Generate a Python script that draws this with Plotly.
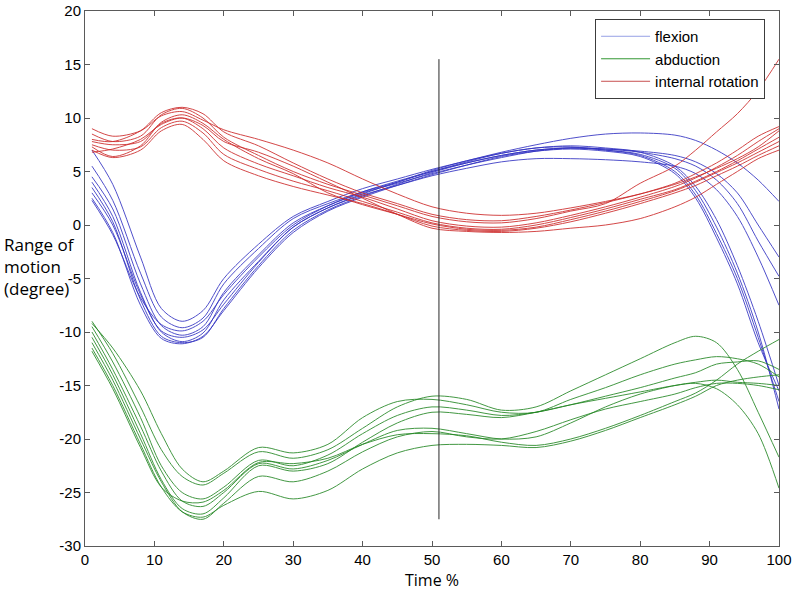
import plotly.graph_objects as go

# Time % sample positions
time_pct = [1, 4, 8, 11, 14, 17, 20, 25, 30, 35, 40, 45, 50, 55, 60, 65, 70, 75, 80, 85, 88, 91, 94, 97, 100]

flexion = [
    [7.0, 3.8, -3.0, -7.8, -9.0, -8.0, -5.0, -1.8, 0.8, 2.2, 3.4, 4.3, 5.2, 6.0, 6.8, 7.5, 8.1, 8.5, 8.6, 8.4, 7.9, 7.0, 5.8, 4.2, 2.2],
    [5.5, 2.3, -4.5, -8.6, -9.6, -8.7, -5.5, -2.2, 0.6, 2.0, 3.1, 4.0, 5.0, 5.8, 6.5, 7.0, 7.2, 7.1, 6.9, 6.5, 5.9, 4.8, 3.0, 0.0, -3.0],
    [4.5, 1.5, -5.5, -9.4, -10.3, -9.5, -6.3, -2.8, 0.2, 1.8, 3.0, 3.9, 4.8, 5.6, 6.3, 6.9, 7.2, 7.1, 6.8, 6.2, 5.5, 4.2, 2.0, -1.5, -4.8],
    [4.0, 0.8, -6.3, -10.0, -10.9, -10.1, -7.0, -3.4, -0.2, 1.6, 2.8, 3.7, 4.6, 5.3, 5.9, 6.2, 6.2, 6.1, 5.9, 5.5, 4.8, 3.3, 0.8, -3.0, -7.5],
    [3.5, 0.3, -7.0, -10.4, -11.0, -10.5, -7.8, -3.8, -0.5, 1.4, 2.7, 3.8, 4.9, 5.8, 6.5, 7.0, 7.2, 7.0, 6.6, 5.3, 3.2, -0.2, -4.5, -10.0, -17.2],
    [3.0, 0.0, -6.5, -9.9, -10.5, -9.8, -7.4, -3.5, -0.2, 1.6, 2.9, 4.0, 5.1, 6.0, 6.7, 7.2, 7.3, 7.0, 6.5, 5.0, 2.8, -0.8, -5.0, -10.5, -16.5],
    [2.5, -0.7, -7.5, -10.6, -11.1, -10.4, -8.0, -4.0, -0.7, 1.3, 2.6, 3.7, 4.7, 5.6, 6.4, 6.9, 7.1, 6.9, 6.4, 4.8, 2.5, -1.2, -5.5, -11.0, -15.5],
    [2.3, -0.9, -6.8, -9.3, -9.9, -9.0, -6.5, -3.0, 0.0, 1.8, 3.1, 4.1, 5.0, 5.9, 6.7, 7.2, 7.4, 7.2, 6.8, 5.5, 3.6, 0.5, -3.8, -9.0, -15.0],
]

abduction = [
    [-9.0, -12.0, -17.0, -21.0, -23.5, -24.3, -23.2, -21.2, -21.8, -21.0, -19.0, -17.0, -16.0, -16.3, -17.3, -17.0, -15.5, -14.0, -12.5, -11.0, -10.4, -11.0, -13.5, -17.5, -21.7],
    [-9.5, -12.8, -18.0, -22.5, -25.0, -25.6, -24.5, -22.0, -22.5, -21.5, -19.5, -17.8, -17.0, -17.3, -17.8, -17.5, -16.8, -16.0, -15.2, -14.3, -13.8, -13.0, -12.8, -12.7, -13.5],
    [-10.0, -13.5, -18.8, -23.0, -25.8, -26.3, -25.0, -22.3, -22.8, -22.0, -20.5, -19.2, -19.0, -19.5, -20.0, -19.8, -18.5, -17.0, -15.8, -15.0, -14.7, -14.5, -14.7, -14.8, -15.0],
    [-10.5, -14.0, -19.5, -23.8, -26.5, -27.0, -25.5, -22.5, -23.0, -22.3, -20.3, -18.5, -17.5, -17.7, -18.0, -17.5, -16.8, -16.2, -15.6, -15.0, -14.8, -15.3, -16.8, -19.5, -24.6],
    [-11.0, -14.5, -20.0, -24.0, -26.8, -27.5, -26.0, -23.5, -24.0, -23.0, -21.2, -19.8, -19.3, -19.8, -20.0, -19.3, -18.2, -17.2, -16.5, -15.8, -15.2, -14.8, -14.8, -15.0, -15.4],
    [-11.8, -15.3, -20.8, -24.5, -25.8, -25.9, -24.8, -22.2, -22.3, -21.8, -20.5, -19.6, -19.5, -19.7, -20.3, -20.6, -20.0, -19.0, -17.8, -16.5, -15.7, -14.5, -13.0, -11.8, -10.7],
    [-11.5, -15.0, -20.5, -24.5, -26.8, -27.3, -26.2, -24.9, -25.6, -24.8, -22.8, -21.3, -20.6, -20.5, -20.6, -20.8, -20.2, -19.2, -18.0, -16.8, -16.0, -15.0, -14.5, -14.2, -14.0],
    [-9.2, -11.5, -15.5, -19.5, -22.8, -24.0, -23.0, -20.8, -21.3, -20.5, -18.0, -16.5, -16.3, -16.8, -17.5, -17.5, -16.3, -15.2, -14.0, -13.0, -12.6, -12.3, -12.5, -13.0, -14.2],
]

internal_rotation = [
    [9.0, 8.3, 8.8, 10.2, 10.6, 9.8, 8.9, 8.0, 7.0, 5.8, 4.3, 2.9, 1.7, 1.1, 0.9, 1.1, 1.6, 2.2, 2.9, 3.8, 4.5, 5.3, 6.2, 7.3, 8.8],
    [8.5, 7.8, 8.3, 10.3, 10.9, 10.0, 8.2, 6.5, 5.0, 3.8, 2.8, 1.8, 0.8, 0.3, 0.2, 0.6, 1.3, 2.0, 3.9, 5.5, 7.0, 8.7, 10.4, 12.6, 15.5],
    [7.8, 7.5, 7.8, 9.5, 10.0, 9.0, 7.2, 5.7, 4.6, 3.5, 2.6, 1.5, 0.4, -0.1, -0.2, 0.2, 0.9, 1.7, 2.6, 3.6, 4.4, 5.4, 6.5, 7.8, 9.0],
    [7.5, 7.0, 7.3, 9.1, 9.7, 8.6, 6.6, 5.2, 4.1, 3.2, 2.2, 1.2, 0.2, -0.3, -0.4, 0.0, 0.7, 1.5, 2.4, 3.3, 4.1, 5.0, 6.0, 7.1, 8.2],
    [7.3, 6.4, 7.4, 9.6, 10.3, 9.5, 8.0, 6.2, 4.8, 3.0, 1.9, 1.0, 0.1, -0.4, -0.5, -0.2, 0.5, 1.3, 2.2, 3.2, 4.0, 4.9, 5.8, 6.8, 7.8],
    [7.0, 6.3, 7.0, 8.8, 9.4, 8.0, 6.0, 4.6, 3.6, 2.8, 2.0, 1.0, -0.1, -0.5, -0.6, -0.3, 0.3, 1.1, 2.0, 3.0, 3.7, 4.6, 5.5, 6.5, 7.4],
    [6.8, 7.1, 8.0, 9.4, 10.0, 9.3, 7.8, 6.8, 5.5, 4.0, 2.5, 1.0, -0.3, -0.6, -0.7, -0.6, -0.3, 0.0, 0.6, 1.7, 2.6, 3.8, 5.0, 6.2, 7.0],
    [8.0, 7.8, 8.8, 10.5, 11.0, 10.4, 8.7, 7.4, 5.8, 4.3, 3.0, 2.0, 1.0, 0.5, 0.4, 0.8, 1.4, 2.1, 2.9, 3.9, 4.8, 5.8, 7.0, 8.3, 9.2],
]

groups = [
    ("flexion", flexion, "rgb(50,50,195)", "rgb(150,160,230)"),
    ("abduction", abduction, "rgb(35,135,35)", "rgb(50,150,50)"),
    ("internal rotation", internal_rotation, "rgb(205,40,40)", "rgb(200,80,80)"),
]

x_ticks = [0, 10, 20, 30, 40, 50, 60, 70, 80, 90, 100]
y_ticks = [-30, -25, -20, -15, -10, -5, 0, 5, 10, 15, 20]
y_tick_text = ["-30", "-25", "-20", "-15", "-10", "-5", "0", "5", "10", "15", "20"]
vline_x = 51
vline_y = [-27.5, 15.5]

fig = go.Figure()
for name, curves, color, legend_color in groups:
    fig.add_trace(go.Scatter(
        x=[None], y=[None], mode="lines", name=name, legendgroup=name,
        line=dict(color=legend_color, width=1), showlegend=True,
    ))
    for c in curves:
        fig.add_trace(go.Scatter(
            x=time_pct, y=c, mode="lines", name=name, legendgroup=name,
            line=dict(color=color, width=1, shape="spline", smoothing=0.9),
            opacity=0.85, showlegend=False, hoverinfo="skip",
        ))

fig.add_trace(go.Scatter(
    x=[vline_x, vline_x], y=vline_y, mode="lines",
    line=dict(color="rgb(40,40,40)", width=1), showlegend=False, hoverinfo="skip",
))

axis_common = dict(
    showgrid=False, zeroline=False, showline=True, mirror="allticks",
    linecolor="rgb(90,90,90)", linewidth=1, ticks="inside", ticklen=5,
    tickcolor="rgb(90,90,90)", automargin=False, ticklabeloverflow="allow",
    tickfont=dict(family="Liberation Sans, Arial", size=15, color="black"),
)

fig.update_layout(
    width=794, height=599,
    margin=dict(l=85, r=15, t=11, b=53),
    paper_bgcolor="white", plot_bgcolor="white",
    xaxis=dict(range=[0, 100], tickvals=x_ticks, **axis_common),
    yaxis=dict(range=[-30, 20], tickvals=y_ticks, ticktext=y_tick_text, **axis_common),
    legend=dict(
        x=0.735, y=0.985, xanchor="left", yanchor="top",
        bordercolor="rgb(60,60,60)", borderwidth=1, bgcolor="white",
        font=dict(family="Liberation Sans, Arial", size=15, color="black"),
        tracegroupgap=0, itemwidth=49,
    ),
    showlegend=True,
    annotations=[
        dict(text="Range of<br>motion<br>(degree)", xref="paper", yref="paper",
             x=-0.12, y=0.523, xanchor="left", yanchor="middle", align="left",
             showarrow=False, font=dict(family="Open Sans", size=17, color="black")),
        dict(text="Time %", xref="paper", yref="paper",
             x=0.5, y=-0.064, xanchor="center", yanchor="middle",
             showarrow=False, font=dict(family="Open Sans", size=16, color="black")),
    ],
)

# remove the browser's default 8px body margin so the figure fills the window exactly
fig.write_html(
    "out.html",
    config={"displayModeBar": False},
    post_script="document.body.style.margin='0px';",
)
